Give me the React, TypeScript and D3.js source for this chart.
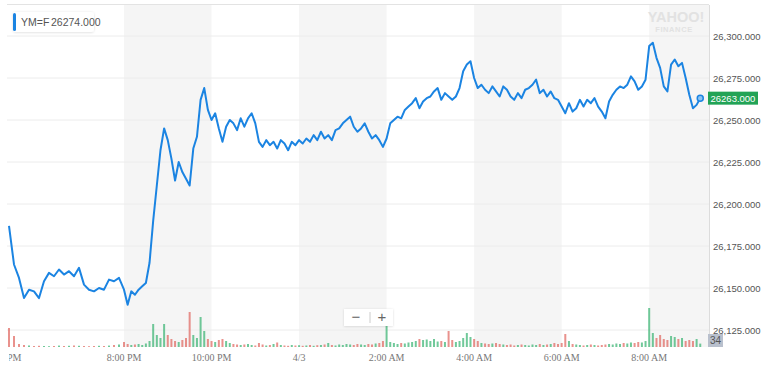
import React from 'react';
import * as d3 from 'd3';

// 5-minute samples, YM=F, 4/2 18:05 -> 4/3 09:10
const startTime = new Date(2019, 3, 2, 18, 5);

const prices: number[] = [
  // 18:05 - 19:55
  26187, 26164, 26156, 26144, 26149, 26148, 26144, 26154, 26159, 26157, 26161, 26158,
  26160, 26157, 26162, 26152, 26149, 26148, 26150, 26149, 26155, 26154, 26156,
  // 20:00 onwards
  26149, 26140, 26148, 26146, 26149, 26151, 26153, 26165, 26190, 26211,
  26232, 26245, 26238, 26227, 26214, 26225, 26219, 26215, 26211, 26233,
  26240, 26262, 26269, 26256, 26250, 26254, 26245, 26237, 26246, 26250,
  26248, 26244, 26251, 26246, 26251, 26254, 26248, 26237, 26234, 26238,
  26235, 26237, 26233, 26238, 26236, 26232, 26237, 26235, 26238, 26236,
  26239, 26237, 26241, 26238, 26243, 26239, 26241, 26238, 26244, 26245,
  26248, 26250, 26252, 26246, 26243, 26245, 26248, 26243, 26239, 26241,
  26238, 26234, 26239, 26248, 26250, 26252, 26251, 26256, 26258, 26260,
  26263, 26257, 26261, 26263, 26264, 26267, 26269, 26262, 26266, 26264,
  26262, 26264, 26269, 26279, 26283, 26285, 26275, 26269, 26271, 26268,
  26266, 26270, 26267, 26264, 26270, 26268, 26264, 26262, 26266, 26263,
  26268, 26269, 26271, 26274, 26266, 26268, 26264, 26267, 26263, 26262,
  26258, 26254, 26260, 26255, 26257, 26262, 26258, 26262, 26260, 26263,
  26258, 26255, 26251, 26261, 26265, 26268, 26270, 26269, 26271, 26276,
  26273, 26268, 26270, 26274, 26294, 26296, 26287, 26281, 26270, 26267,
  26283, 26286, 26282, 26284, 26275, 26265, 26257, 26259, 26263,
];

const volumes: number[] = [
  190, 110, 30, 20, 15, 10, 12, 10, 8, 10, 14, 10,
  12, 15, 12, 10, 8, 10, 12, 10, 14, 20, 25,
  50, 30, 20, 25, 30, 20, 35, 60, 230, 120,
  90, 230, 120, 80, 60, 50, 70, 90, 350, 120,
  90, 300, 160, 80, 60, 50, 70, 80, 60, 40,
  30, 25, 20, 25, 30, 20, 15, 40, 25, 15,
  20, 30, 45, 20, 15, 12, 20, 15, 18, 12,
  15, 20, 12, 18, 20, 25, 40, 20, 15, 25,
  20, 30, 25, 20, 30, 25, 20, 30, 25, 35,
  40, 60, 220, 50, 40, 30, 40, 35, 45, 50,
  60, 80, 70, 75, 60, 80, 55, 60, 50, 160,
  70, 50, 60, 90, 140, 100, 80, 60, 40, 35,
  30, 35, 40, 30, 25, 20, 25, 15, 20, 25,
  20, 15, 25, 20, 30, 20, 25, 30, 40, 30,
  40, 130, 60, 30, 25, 20, 15, 20, 25, 20,
  15, 20, 25, 30, 25, 35, 30, 40, 35, 45,
  40, 50, 45, 60, 390, 140, 90, 120, 80, 70,
  110, 100, 80, 90, 60, 70, 60, 80, 34,
];

const yTicks = [26125, 26150, 26175, 26200, 26225, 26250, 26275, 26300];

const xTickTimes = [
  new Date(2019, 3, 2, 18), new Date(2019, 3, 2, 20), new Date(2019, 3, 2, 22),
  new Date(2019, 3, 3, 0), new Date(2019, 3, 3, 2), new Date(2019, 3, 3, 4),
  new Date(2019, 3, 3, 6), new Date(2019, 3, 3, 8),
];
const xTickLabels = ['6:00 PM', '8:00 PM', '10:00 PM', '4/3', '2:00 AM', '4:00 AM', '6:00 AM', '8:00 AM'];

// shaded 2h bands
const bandStarts = [
  new Date(2019, 3, 2, 20), new Date(2019, 3, 3, 0), new Date(2019, 3, 3, 4), new Date(2019, 3, 3, 8),
];

const symbol = 'YM=F';
const legendQuote = '26274.000';
const lastVolume = 34;

const W = 768;
const H = 366;
const left = 7;
const right = 709;
const top = 5;
const bottom = 347;

const App: React.FC = () => {
  const times = prices.map((_, i) => d3.timeMinute.offset(startTime, i * 5));

  // session start is compressed, so piecewise time scale
  const x = d3.scaleTime()
    .domain([new Date(2019, 3, 2, 18), new Date(2019, 3, 2, 20), new Date(2019, 3, 3, 9, 22)])
    .range([4, 124, right]);

  const y = d3.scaleLinear().domain([26125, 26300]).range([330, 36]);
  const yVol = d3.scaleLinear().domain([0, 400]).range([bottom, bottom - 40]);

  const line = d3.line<number>()
    .x((_, i) => x(times[i]))
    .y(d => y(d));

  const last = prices[prices.length - 1];
  const lastT = times[times.length - 1];
  const fmt = d3.format(',.3f');
  const sans = 'Liberation Sans, Arial, sans-serif';

  return (
    <svg width={W} height={H} style={{ position: 'absolute', left: 0, top: 0, background: '#fff' }}>
      <defs>
        <clipPath id="plot">
          <rect x={left} y={top} width={right - left} height={bottom - top} />
        </clipPath>
        <clipPath id="xaxis">
          <rect x={9} y={bottom} width={W - 9} height={H - bottom} />
        </clipPath>
        <filter id="sh" x="-10%" y="-30%" width="120%" height="160%">
          <feDropShadow dx="0" dy="0.5" stdDeviation="1" floodColor="#000" floodOpacity="0.15" />
        </filter>
      </defs>

      {bandStarts.map((b, i) => {
        const x0 = x(b);
        const x1 = Math.min(right, x(d3.timeHour.offset(b, 2)));
        return <rect key={i} x={x0} y={top} width={x1 - x0} height={bottom - top} fill="#f5f5f5" />;
      })}

      <line x1={left} x2={right} y1={top - 0.5} y2={top - 0.5} stroke="#e3e3e3" />
      {yTicks.map(t => (
        <line key={t} x1={left} x2={right} y1={y(t)} y2={y(t)} stroke="#ececec" />
      ))}
      <line x1={right + 0.5} x2={right + 0.5} y1={top} y2={bottom} stroke="#dcdcdc" />

      {/* yahoo watermark */}
      <text x={676} y={22} textAnchor="middle" fontFamily={sans} fontWeight="bold" fontSize={14.5} fill="#e2e2e2">YAHOO!</text>
      <text x={674} y={32} textAnchor="middle" fontFamily={sans} fontWeight="bold" fontSize={7.5} letterSpacing={0.6} fill="#e2e2e2">FINANCE</text>

      {/* volume */}
      <g clipPath="url(#plot)">
        {volumes.map((v, i) => {
          const up = i === 0 ? false : prices[i] >= prices[i - 1];
          return (
            <rect key={i} x={x(times[i]) - 1} y={yVol(v)} width={2} height={bottom - yVol(v)}
              fill={up ? '#35b26f' : '#e0645c'} opacity={0.7} />
          );
        })}
      </g>

      <path d={line(prices) || ''} fill="none" stroke="#1b84e2" strokeWidth={2} strokeLinejoin="round" clipPath="url(#plot)" />
      <circle cx={x(lastT)} cy={y(last)} r={3} fill="#8cc4f3" stroke="#1b84e2" strokeWidth={1.5} />

      {/* legend */}
      <g filter="url(#sh)">
        <rect x={13} y={12} width={81} height={20} rx={3} fill="#fff" />
      </g>
      <rect x={13} y={13} width={3} height={18} rx={1.5} fill="#1b84e2" />
      <text x={21} y={26} fontFamily={sans} fontSize={10.5} fill="#555">
        {symbol}
        <tspan x={51}>{legendQuote}</tspan>
      </text>

      {/* right axis */}
      {yTicks.map(t => (
        <text key={t} x={713} y={y(t) + 3.5} fontFamily={sans} fontSize={9.5} fill="#555">{fmt(t)}</text>
      ))}
      <rect x={708} y={y(last) - 6.5} width={50} height={13} fill="#22a356" />
      <text x={710.5} y={y(last) + 3.5} fontFamily={sans} fontSize={9.5} fill="#fff">{last.toFixed(3)}</text>
      <rect x={708} y={334} width={15} height={13} fill="#b9c0cd" />
      <text x={710} y={344} fontFamily={sans} fontSize={10} fill="#555">{lastVolume}</text>

      {/* bottom axis */}
      <g clipPath="url(#xaxis)">
        {xTickTimes.map((t, i) => (
          <text key={i} x={x(t)} y={361} textAnchor="middle" fontFamily="Liberation Serif, serif" fontSize={10} fill="#777">
            {xTickLabels[i]}
          </text>
        ))}
      </g>

      {/* zoom control */}
      <g filter="url(#sh)">
        <rect x={344} y={309} width={49} height={17} fill="#fff" />
      </g>
      <line x1={370} x2={370} y1={312} y2={323} stroke="#ccc" />
      <text x={356} y={322} textAnchor="middle" fontFamily={sans} fontSize={15} fill="#666">−</text>
      <text x={382} y={322} textAnchor="middle" fontFamily={sans} fontSize={15} fill="#666">+</text>
    </svg>
  );
};

export default App;
